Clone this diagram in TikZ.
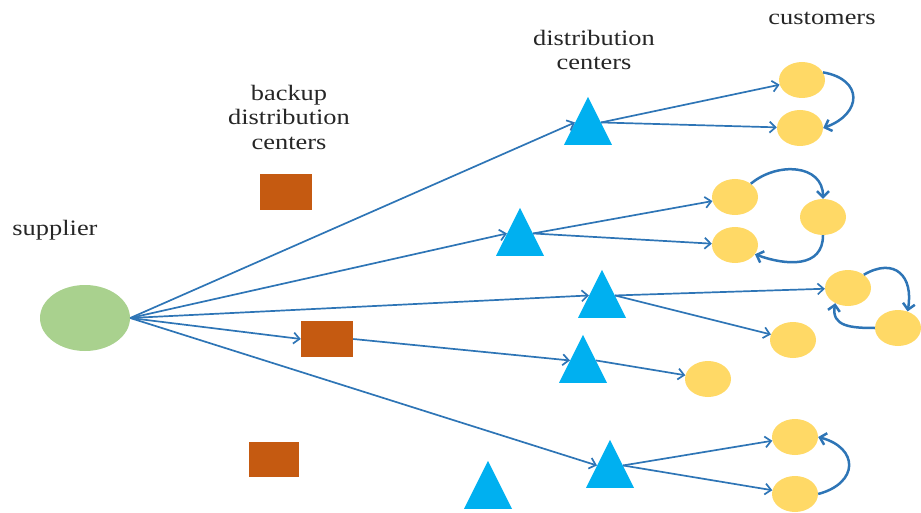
\documentclass[tikz,border=0pt]{standalone}
\usepackage{fontspec}
\setmainfont{Liberation Serif}
\newfontfamily\lblfont[FakeStretch=1.2]{Liberation Serif}
\usetikzlibrary{shapes.geometric,arrows.meta}
\definecolor{lnblue}{HTML}{2E75B6}
\definecolor{tri}{HTML}{00B0F0}
\definecolor{sq}{HTML}{C55A11}
\definecolor{grn}{HTML}{A9D18E}
\definecolor{yel}{HTML}{FFD966}
\begin{document}
\begin{tikzpicture}[x=1pt,y=-1pt,
  lbl/.style={font=\lblfont\fontsize{22}{24.5}\selectfont, align=center, text=black!85},
  supp/.style={ellipse, fill=grn, minimum width=90, minimum height=66, inner sep=0},
  backsq/.style={rectangle, fill=sq, minimum width=52, minimum height=36, inner sep=0},
  dc/.style={isosceles triangle, isosceles triangle stretches, shape border rotate=90, fill=tri, minimum width=48, minimum height=48, inner sep=0},
  cust/.style={ellipse, fill=yel, minimum width=46, minimum height=36, inner sep=0},
  arr/.style={draw=lnblue, line width=1.7, -{Straight Barb[length=6pt,width=11pt]}},
  carr/.style={draw=lnblue, line width=2.5, -{Straight Barb[length=6pt,width=12pt]}},
]
\useasboundingbox (0,0) rectangle (921,513);
% labels
\node[lbl] (lc) at (822,18) {customers};
\node[lbl] (ld) at (594,50) {distribution\\centers};
\node[lbl] (lb) at (289,117) {backup\\distribution\\centers};
\node[lbl] (ls) at (55,230) {supplier};
% supplier
\node[supp] (S) at (85,318) {};
% backup squares
\node[backsq] (B1) at (286,192) {};
\node[backsq] (B2) at (327,339) {};
\node[backsq, minimum width=50, minimum height=35] (B3) at (274,459) {};
% distribution centers
\node[dc] (T1) at (588,130) {};
\node[dc] (T2) at (520,241) {};
\node[dc] (T3) at (602,303) {};
\node[dc] (T4) at (583,368) {};
\node[dc] (T5) at (610,473) {};
\node[dc] (T6) at (488,494) {};
% customers
\node[cust] (C1) at (802,80) {};
\node[cust] (C2) at (800,128) {};
\node[cust] (C3) at (735,197) {};
\node[cust] (C4) at (823,217) {};
\node[cust] (C5) at (735,245) {};
\node[cust] (C6) at (848,288) {};
\node[cust] (C7) at (898,328) {};
\node[cust] (C8) at (793,340) {};
\node[cust] (C9) at (708,379) {};
\node[cust] (C10) at (795,437) {};
\node[cust] (C11) at (795,494) {};
% supplier arrows
\draw[arr] (S.east) -- (T1.150);
\draw[arr] (S.east) -- (T2.150);
\draw[arr] (S.east) -- (T3.150);
\draw[arr] (S.east) -- (B2.west);
\draw[arr] (S.east) -- (T5.150);
\draw[arr] (B2.east) -- (T4.150);
% dc to customers
\draw[arr] (T1.30) -- (C1);
\draw[arr] (T1.30) -- (C2);
\draw[arr] (T2.30) -- (C3);
\draw[arr] (T2.30) -- (C5);
\draw[arr] (T3.30) -- (C6);
\draw[arr] (T3.30) -- (C8);
\draw[arr] (T4.30) -- (C9);
\draw[arr] (T5.30) -- (C10);
\draw[arr] (T5.30) -- (C11);
% customer curves
\draw[carr] (C1.20) to[out=-10,in=20,looseness=1.9] (C2.east);
\draw[carr] (C3.40) to[out=40,in=90,looseness=1.2] (C4.north);
\draw[carr] (C4.south) to[out=-90,in=-20,looseness=1.2] (C5.-25);
\draw[carr] (C6.40) to[out=30,in=80,looseness=1.6] (C7.60);
\draw[carr] (C7.west) to[out=180,in=-100,looseness=1.3] (C6.-130);
\draw[carr] (C11.east) to[out=15,in=-15,looseness=1.9] (C10.east);
\end{tikzpicture}
\end{document}
